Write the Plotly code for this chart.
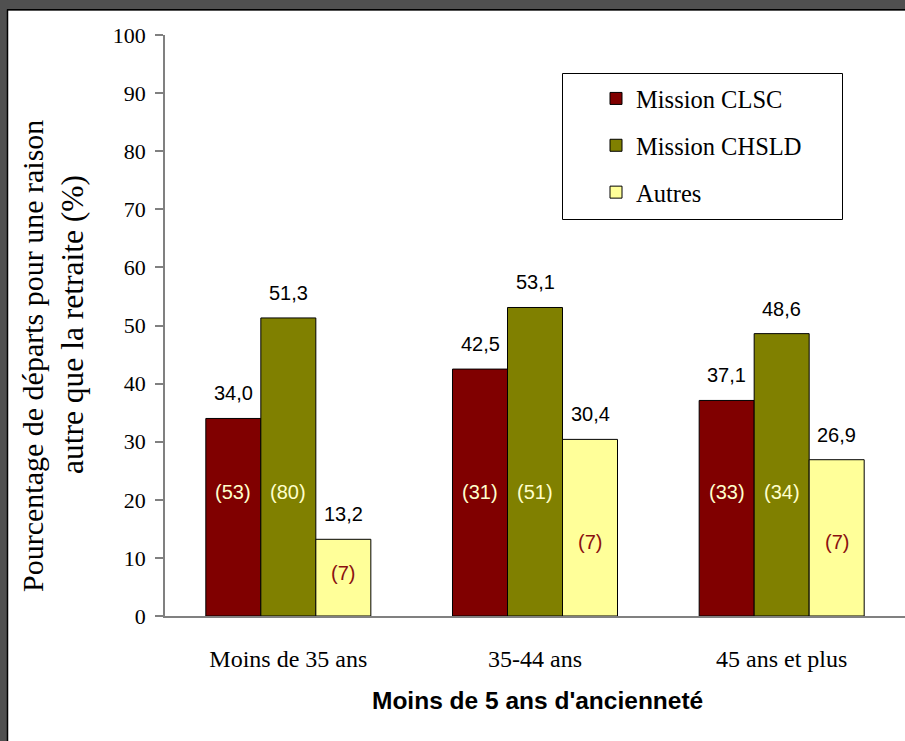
import plotly.graph_objects as go

# ---- data ----
categories = ["Moins de 35 ans", "35-44 ans", "45 ans et plus"]
series_names = ["Mission CLSC", "Mission CHSLD", "Autres"]
clsc = [34.0, 42.5, 37.1]
chsld = [51.3, 53.1, 48.6]
autres = [13.2, 30.4, 26.9]
n_clsc = [53, 31, 33]
n_chsld = [80, 51, 34]
n_autres = [7, 7, 7]
y_ticks = [0, 10, 20, 30, 40, 50, 60, 70, 80, 90, 100]

# ---- styles / layout constants ----
colors = ["#800000", "#808000", "#FFFF99"]
count_colors = ["#FFFFCC", "#FFFFCC", "#8B1010"]
count_label_y = [[21.3, 21.3, 21.3], [21.3, 21.3, 21.3], [7.4, 12.7, 12.7]]
SERIF = "Liberation Serif, Times New Roman, serif"
SANS = "Liberation Sans, Arial, sans-serif"

W, H = 905, 741
ML, MR, MT, MB = 165, 0, 35, 125
PW, PH = W - ML - MR, H - MT - MB
BAR_PX = 55


def px_x(p):
    return (p - ML) / PW


def px_y(p):
    return (H - MB - p) / PH


series_vals = [clsc, chsld, autres]
series_counts = [n_clsc, n_chsld, n_autres]

fig = go.Figure()
for name, vals, col in zip(series_names, series_vals, colors):
    fig.add_trace(go.Bar(
        name=name, x=categories, y=vals, legendgroup=name,
        marker=dict(color=col, line=dict(color="#000000", width=1)),
        hoverinfo="skip",
    ))

annotations = []
for si, (vals, counts) in enumerate(zip(series_vals, series_counts)):
    shift = (si - 1) * BAR_PX
    for ci, cat in enumerate(categories):
        annotations.append(dict(
            x=cat, y=vals[ci], xref="x", yref="y", xshift=shift, yshift=12,
            text=f"{vals[ci]:.1f}".replace(".", ","), showarrow=False,
            yanchor="bottom", font=dict(family=SANS, size=20, color="#000000")))
        annotations.append(dict(
            x=cat, y=count_label_y[si][ci], xref="x", yref="y", xshift=shift,
            text=f"({counts[ci]})", showarrow=False, yanchor="middle",
            font=dict(family=SANS, size=20, color=count_colors[si])))

# axis titles
annotations.append(dict(
    x=px_x(33), y=px_y(356), xref="paper", yref="paper", textangle=-90,
    text="Pourcentage de départs pour une raison", showarrow=False,
    xanchor="center", yanchor="middle",
    font=dict(family=SERIF, size=30, color="#000000")))
annotations.append(dict(
    x=px_x(72), y=px_y(325), xref="paper", yref="paper", textangle=-90,
    text="autre que la retraite (%)", showarrow=False,
    xanchor="center", yanchor="middle",
    font=dict(family=SERIF, size=31.5, color="#000000")))
annotations.append(dict(
    x=px_x(537), y=px_y(700), xref="paper", yref="paper",
    text="<b>Moins de 5 ans d'ancienneté</b>", showarrow=False,
    xanchor="center", yanchor="middle",
    font=dict(family=SANS, size=24.5, color="#000000")))

GRAY = "#505050"
shapes = [
    # white slide area inside the dark frame
    dict(type="rect", xref="paper", yref="paper", x0=px_x(8), x1=px_x(W + 2),
         y0=px_y(H + 2), y1=px_y(10.5), fillcolor="#FFFFFF", line=dict(width=0),
         layer="below"),
    dict(type="line", xref="paper", yref="paper", x0=px_x(7.5), x1=px_x(7.5),
         y0=px_y(H + 2), y1=px_y(9.5), line=dict(color="#000000", width=1.5),
         layer="below"),
    dict(type="line", xref="paper", yref="paper", x0=px_x(7), x1=px_x(W + 2),
         y0=px_y(9.8), y1=px_y(9.8), line=dict(color="#000000", width=1.5),
         layer="below"),
    # legend frame
    dict(type="rect", xref="paper", yref="paper", x0=px_x(562.5), x1=px_x(842.5),
         y0=px_y(219.5), y1=px_y(73.5), fillcolor="#FFFFFF",
         line=dict(color="#000000", width=1), layer="below"),
]

fig.update_layout(
    width=W, height=H,
    margin=dict(l=ML, r=MR, t=MT, b=MB, pad=0),
    paper_bgcolor=GRAY, plot_bgcolor="rgba(0,0,0,0)",
    barmode="group", bargap=0.331, bargroupgap=0,
    showlegend=True,
    legend=dict(
        x=px_x(562), y=px_y(76), xanchor="left", yanchor="top",
        bgcolor="rgba(0,0,0,0)", borderwidth=0,
        font=dict(family=SERIF, size=24.5, color="#000000"),
        tracegroupgap=12, traceorder="grouped", indentation=34,
    ),
    xaxis=dict(
        showline=True, linecolor="#808080", linewidth=1.5, ticks="",
        showgrid=False, zeroline=False, ticklabelstandoff=20,
        tickfont=dict(family=SERIF, size=24, color="#000000"),
        range=[-0.5, 2.5],
    ),
    yaxis=dict(
        range=[0, 100], tickvals=y_ticks, showline=True, linecolor="#808080",
        linewidth=1.5, ticks="outside", ticklen=8, tickcolor="#808080",
        tickwidth=1.5, showgrid=False, zeroline=False, ticklabelstandoff=5,
        tickfont=dict(family=SERIF, size=22, color="#000000"),
    ),
    annotations=annotations,
    shapes=shapes,
)

fig.write_html(
    "out.html",
    config={"displayModeBar": False},
    post_script="document.body.style.margin='0';document.body.style.overflow='hidden';",
)
